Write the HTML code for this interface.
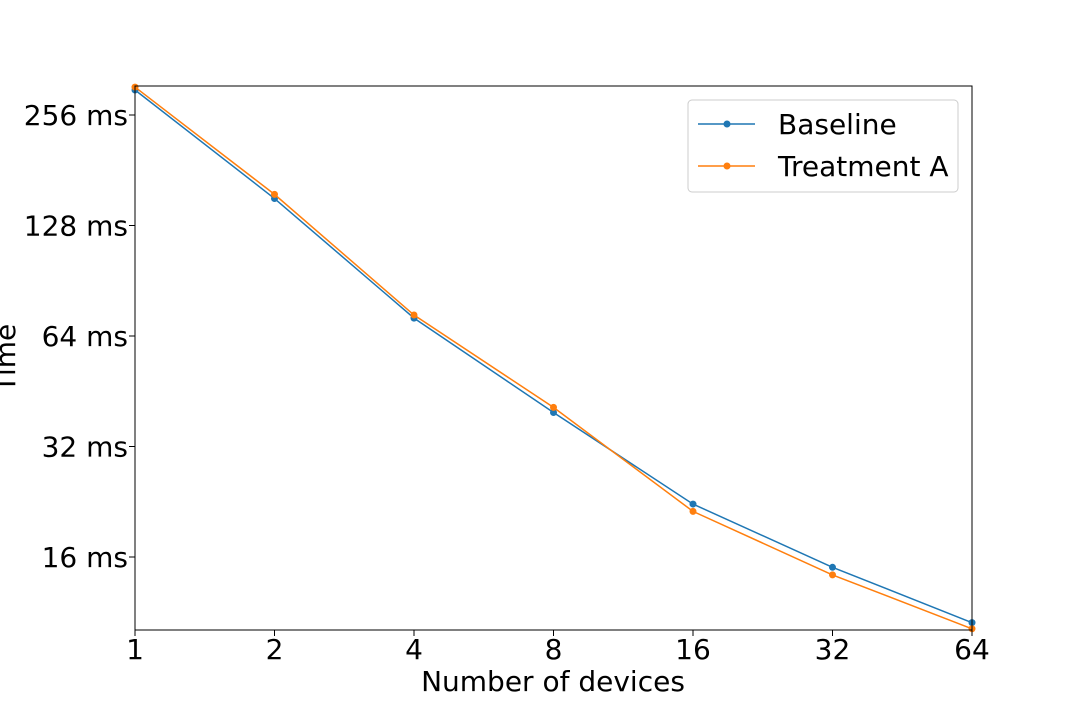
<!DOCTYPE html>
<html><head><meta charset="utf-8"><style>
body{margin:0;background:#fff;}
svg{display:block;font-family:"DejaVu Sans","Liberation Sans",sans-serif;}
</style></head><body>
<svg id="chart" width="1080" height="720" viewBox="0 0 1080 720" xmlns="http://www.w3.org/2000/svg">
<rect x="0" y="0" width="1080" height="720" fill="#fff"/>
<g id="series"></g>
<rect x="135" y="86" width="837" height="544" fill="none" stroke="#000" stroke-width="1"/>
<g id="axes"></g>
<text x="553" y="691" font-size="28" text-anchor="middle">Number of devices</text>
<text transform="translate(15,358) rotate(-90)" font-size="28" text-anchor="middle">Time</text>
<g>
<rect x="688" y="100" width="270" height="92" rx="4" fill="#fff" stroke="#ccc"/>
<g>
<line x1="698" y1="124" x2="755" y2="124" stroke="#1f77b4" stroke-width="1.5"/>
<circle cx="727" cy="124" r="3.5" fill="#1f77b4"/>
<text x="778" y="134" font-size="28">Baseline</text></g>
<g>
<line x1="698" y1="166" x2="755" y2="166" stroke="#ff7f0e" stroke-width="1.5"/>
<circle cx="727" cy="166" r="3.5" fill="#ff7f0e"/>
<text x="778" y="176" font-size="28">Treatment A</text></g>
</g>
</svg>
<script>
const devices=[1,2,4,8,16,32,64];
const baseline=[299.5,151.6,71.6,39.6,22.3,15.0,10.6];
const treatmentA=[305,155.6,73,40.9,21.3,14.3,10.2];
const yTicks=[16,32,64,128,256];
const yTickLabels=["16 ms","32 ms","64 ms","128 ms","256 ms"];
const NS="http://www.w3.org/2000/svg";
function xs(v){return 135+Math.log2(v)*139.5;}
function ys(v){return 115-(Math.log2(v)-8)*110.5;}
const axes=document.getElementById('axes');
devices.forEach(d=>{
 const t=document.createElementNS(NS,'line');
 
 
 t.setAttribute('x1',xs(d));t.setAttribute('x2',xs(d));t.setAttribute('y1',630);t.setAttribute('y2',636);t.setAttribute('stroke','#000');
 axes.appendChild(t);
 const l=document.createElementNS(NS,'text');
 
 
 l.setAttribute('x',xs(d));l.setAttribute('y',659);l.setAttribute('font-size','28');l.setAttribute('text-anchor','middle');
 l.textContent=String(d);axes.appendChild(l);
});
yTicks.forEach((v,i)=>{
 const t=document.createElementNS(NS,'line');
 
 
 t.setAttribute('x1',129);t.setAttribute('x2',135);t.setAttribute('y1',ys(v));t.setAttribute('y2',ys(v));t.setAttribute('stroke','#000');
 axes.appendChild(t);
 const l=document.createElementNS(NS,'text');
 
 
 l.setAttribute('x',128);l.setAttribute('y',ys(v)+10);l.setAttribute('font-size','28');l.setAttribute('text-anchor','end');
 l.textContent=yTickLabels[i];axes.appendChild(l);
});
const sg=document.getElementById('series');
function draw(vals,color,name){
 const p=document.createElementNS(NS,'polyline');
 
 
 p.setAttribute('points',vals.map((v,i)=>xs(devices[i])+','+ys(v)).join(' '));
 p.setAttribute('fill','none');p.setAttribute('stroke',color);p.setAttribute('stroke-width','1.5');
 sg.appendChild(p);
 vals.forEach((v,i)=>{
  const c=document.createElementNS(NS,'circle');
  
  
  c.setAttribute('cx',xs(devices[i]));c.setAttribute('cy',ys(v));c.setAttribute('r','3.5');c.setAttribute('fill',color);
  sg.appendChild(c);
 });
}
draw(baseline,'#1f77b4','baseline');
draw(treatmentA,'#ff7f0e','treatment-a');
</script>
</body></html>
